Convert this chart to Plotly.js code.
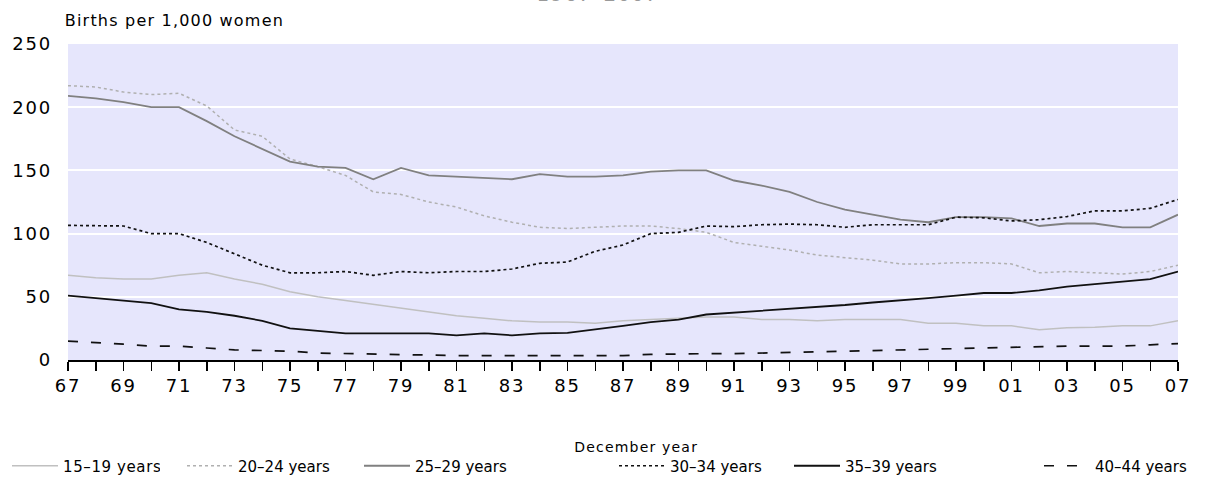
<!DOCTYPE html>
<html>
<head>
<meta charset="utf-8">
<script src="https://cdn.plot.ly/plotly-3.0.1.min.js"></script>
<style>
html,body{margin:0;padding:0;background:#fff;}
#chart{width:1205px;height:485px;}
#chart .xtick text, #chart .ytick text{letter-spacing:1.8px;}
#chart .legendtext{letter-spacing:0.6px;}
#chart .annotation-text{letter-spacing:1.2px;}
</style>
</head>
<body>
<div id="chart"></div>
<script>
// December years 1967–2007
const years = [1967,1968,1969,1970,1971,1972,1973,1974,1975,1976,1977,1978,1979,1980,1981,1982,1983,1984,1985,1986,1987,1988,1989,1990,1991,1992,1993,1994,1995,1996,1997,1998,1999,2000,2001,2002,2003,2004,2005,2006,2007];

const seriesNames = ["15–19 years","20–24 years","25–29 years","30–34 years","35–39 years","40–44 years"];

const age15_19 = [67,65,64,64,67,69,64,60,54,50,47,44,41,38,35,33,31,30,30,29,31,32,33,34,34,32,32,31,32,32,32,29,29,27,27,24,25.5,26,27,27,31];
const age20_24 = [217,216,212,210,211,201,182,177,159,153,146,133,131,125,121,114,109,105,104,105,106,106,104,101,93,90,87,83,81,79,76,76,77,77,76,69,70,69,68,70,75];
const age25_29 = [209,207,204,200,200,189,177,167,157,153,152,143,152,146,145,144,143,147,145,145,146,149,150,150,142,138,133,125,119,115,111,109,113,113,112,106,108,108,105,105,115];
const age30_34 = [106.5,106.5,106,100,100,93,84,75,69,69,70,67,70,69,70,70,72,76.5,77.5,86,91,100,101,106,105.5,107,107.5,107,105,107,107,107,113,112.5,110,111,113.5,118,118,120,127];
const age35_39 = [51,49,47.5,45,40,38,35,31,25,23,21,21,21,21,19.5,21,19.5,21,21.5,24,27,30,32,36,37.5,39,40,42,43.5,45.5,47,49,51,53,53,55,58,60,62,64,70];
const age40_44 = [15,14,12.5,11,11,9.5,8,7.5,7,5.5,5,5,4,3.5,3.5,3.5,3.5,3.5,3.5,3.5,3.5,4.5,5,5,5,5.5,6,7,7,8,8.5,8.5,9.5,10,10,10.5,11,11,11,12,13];

const tickYears = [1967,1969,1971,1973,1975,1977,1979,1981,1983,1985,1987,1989,1991,1993,1995,1997,1999,2001,2003,2005,2007];
const tickLabels = ["67","69","71","73","75","77","79","81","83","85","87","89","91","93","95","97","99","01","03","05","07"];
const yTicks = [0,50,100,150,200,250];

const FONT = "DejaVu Sans, Verdana, sans-serif";

const styles = [
  {color:"#c0c0c0", width:1.5, dash:"solid"},
  {color:"#b0b0b0", width:1.5, dash:"dot"},
  {color:"#808080", width:1.8, dash:"solid"},
  {color:"#111111", width:1.7, dash:"dot"},
  {color:"#111111", width:1.8, dash:"solid"},
  {color:"#111111", width:1.7, dash:"10px,13px"}
];
const values = [age15_19, age20_24, age25_29, age30_34, age35_39, age40_44];
const legendIds = ["legend","legend2","legend3","legend4","legend5","legend6"];
const legendX = [7,182,359,614,789,1039];

const traces = values.map((v,i)=>({
  x: years, y: v, type:"scatter", mode:"lines", name: seriesNames[i],
  line: styles[i], legend: legendIds[i], hoverinfo:"skip"
}));

const layout = {
  width:1205, height:485,
  paper_bgcolor:"#ffffff",
  plot_bgcolor:"#e6e6fc",
  margin:{l:68, r:27, t:44, b:125},
  font:{family:FONT, size:15, color:"#000"},
  xaxis:{
    range:[1967,2007], showgrid:false, zeroline:false,
    showline:true, linecolor:"#000", linewidth:1.5,
    ticks:"outside", ticklen:9, tickwidth:1.5, tickcolor:"#000",
    tickvals:tickYears, ticktext:tickLabels,
    minor:{dtick:1, tick0:1967, ticks:"outside", ticklen:9, tickwidth:1.5, tickcolor:"#000", showgrid:false},
    tickfont:{family:FONT, size:18, color:"#000"},
    fixedrange:true
  },
  yaxis:{
    range:[0,250], tickvals:yTicks, showgrid:true, gridcolor:"#ffffff", gridwidth:2,
    zeroline:false, showline:false, ticks:"", ticklabelstandoff:15,
    tickfont:{family:FONT, size:18, color:"#000"}, fixedrange:true
  },
  annotations:[
    {text:"Births per 1,000 women", xref:"paper", yref:"paper", x:(76-68)/1110, y:(360-20)/316, xanchor:"left", yanchor:"middle", showarrow:false, font:{family:FONT, size:16, color:"#000"}},
    {text:"1967–2007", xref:"paper", yref:"paper", x:(598-68)/1110, y:(360-7)/316, xanchor:"center", yanchor:"bottom", showarrow:false, borderpad:0, font:{family:FONT, size:20, color:"#999999"}},
    {text:"December year", xref:"paper", yref:"paper", x:(636-68)/1110, y:(360-447)/316, xanchor:"center", yanchor:"middle", showarrow:false, font:{family:FONT, size:14, color:"#000"}}
  ],
  showlegend:true
};
legendIds.forEach((id,i)=>{
  layout[id] = {orientation:"h", xref:"container", yref:"container", x:legendX[i]/1205, y:1-466/485, xanchor:"left", yanchor:"middle", bgcolor:"rgba(0,0,0,0)", borderwidth:0, itemwidth:46, font:{family:FONT, size:15, color:"#000"}};
});

Plotly.newPlot("chart", traces, layout, {displayModeBar:false, staticPlot:true});
</script>
</body>
</html>
